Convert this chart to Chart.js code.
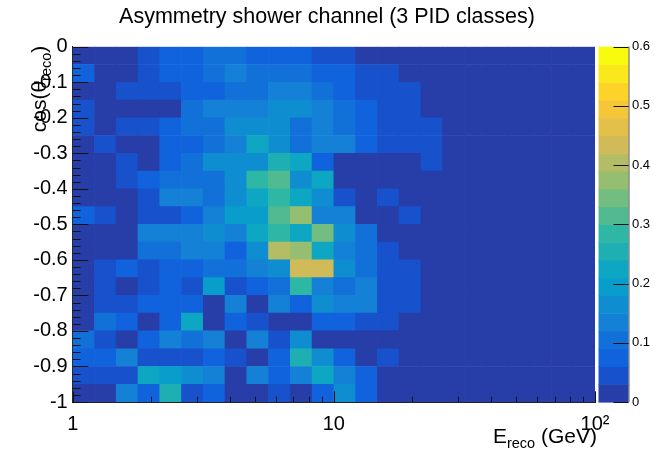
<!DOCTYPE html>
<html>
<head>
<meta charset="utf-8">
<script src="https://cdn.jsdelivr.net/npm/chart.js@4"></script>
<style>
  html, body { margin: 0; padding: 0; background: #fff; }
</style>
</head>
<body>
<canvas id="myChart" width="654" height="450"></canvas>
<script>
// bin edges: E_reco (GeV), log binning, and cos(theta_reco)
const xEdges = [1, 1.212, 1.468, 1.778, 2.154, 2.610, 3.162, 3.831, 4.642, 5.623, 6.813, 8.254,
  10, 12.12, 14.68, 17.78, 21.54, 26.10, 31.62, 38.31, 46.42, 56.23, 68.13, 82.54, 100];
const yEdges = [0, -0.05, -0.1, -0.15, -0.2, -0.25, -0.3, -0.35, -0.4, -0.45, -0.5,
  -0.55, -0.6, -0.65, -0.7, -0.75, -0.8, -0.85, -0.9, -0.95, -1];

// asymmetry per cell, one row per cos bin (top row = 0 .. -0.05)
const asym = [
  [0.01,0.01,0.01,0.04,0.07,0.07,0.10,0.10,0.07,0.07,0.07,0.04,0.04,0.01,0.01,0.01,0.01,0.01,0.01,0.01,0.01,0.01,0.01,0.01],
  [0.07,0.01,0.01,0.04,0.07,0.07,0.10,0.13,0.10,0.10,0.10,0.07,0.07,0.04,0.04,0.01,0.01,0.01,0.01,0.01,0.01,0.01,0.01,0.01],
  [0.01,0.01,0.04,0.04,0.04,0.07,0.07,0.10,0.10,0.13,0.13,0.10,0.07,0.04,0.04,0.04,0.01,0.01,0.01,0.01,0.01,0.01,0.01,0.01],
  [0.04,0.01,0.01,0.01,0.01,0.10,0.13,0.13,0.13,0.16,0.16,0.13,0.10,0.07,0.04,0.04,0.01,0.01,0.01,0.01,0.01,0.01,0.01,0.01],
  [0.04,0.01,0.04,0.04,0.07,0.10,0.10,0.16,0.16,0.16,0.10,0.13,0.10,0.07,0.04,0.04,0.04,0.01,0.01,0.01,0.01,0.01,0.01,0.01],
  [0.01,0.04,0.01,0.01,0.07,0.07,0.10,0.13,0.22,0.16,0.10,0.13,0.13,0.07,0.04,0.04,0.04,0.01,0.01,0.01,0.01,0.01,0.01,0.01],
  [0.01,0.01,0.04,0.01,0.07,0.10,0.16,0.16,0.16,0.25,0.22,0.07,0.01,0.01,0.01,0.01,0.04,0.01,0.01,0.01,0.01,0.01,0.01,0.01],
  [0.01,0.01,0.04,0.07,0.10,0.10,0.10,0.16,0.28,0.31,0.16,0.22,0.01,0.01,0.01,0.01,0.01,0.01,0.01,0.01,0.01,0.01,0.01,0.01],
  [0.01,0.01,0.01,0.04,0.13,0.13,0.10,0.16,0.22,0.28,0.22,0.16,0.04,0.01,0.04,0.01,0.01,0.01,0.01,0.01,0.01,0.01,0.01,0.01],
  [0.07,0.04,0.01,0.04,0.04,0.07,0.13,0.19,0.19,0.31,0.37,0.13,0.13,0.01,0.01,0.04,0.01,0.01,0.01,0.01,0.01,0.01,0.01,0.01],
  [0.01,0.01,0.01,0.13,0.13,0.13,0.16,0.13,0.22,0.28,0.22,0.34,0.16,0.10,0.01,0.01,0.01,0.01,0.01,0.01,0.01,0.01,0.01,0.01],
  [0.01,0.01,0.01,0.10,0.10,0.13,0.13,0.07,0.16,0.40,0.37,0.22,0.13,0.10,0.04,0.01,0.01,0.01,0.01,0.01,0.01,0.01,0.01,0.01],
  [0.01,0.04,0.07,0.04,0.07,0.07,0.10,0.10,0.13,0.16,0.43,0.43,0.16,0.10,0.04,0.04,0.01,0.01,0.01,0.01,0.01,0.01,0.01,0.01],
  [0.01,0.04,0.01,0.04,0.07,0.04,0.19,0.04,0.07,0.10,0.28,0.13,0.10,0.13,0.04,0.04,0.01,0.01,0.01,0.01,0.01,0.01,0.01,0.01],
  [0.01,0.04,0.04,0.07,0.07,0.07,0.01,0.13,0.01,0.13,0.07,0.16,0.13,0.13,0.04,0.04,0.01,0.01,0.01,0.01,0.01,0.01,0.01,0.01],
  [0.01,0.10,0.07,0.01,0.07,0.22,0.01,0.07,0.04,0.01,0.01,0.07,0.07,0.04,0.04,0.01,0.01,0.01,0.01,0.01,0.01,0.01,0.01,0.01],
  [0.10,0.04,0.01,0.07,0.13,0.10,0.13,0.01,0.13,0.04,0.16,0.01,0.01,0.01,0.01,0.01,0.01,0.01,0.01,0.01,0.01,0.01,0.01,0.01],
  [0.07,0.07,0.13,0.04,0.04,0.04,0.07,0.04,0.01,0.07,0.25,0.16,0.07,0.01,0.04,0.01,0.01,0.01,0.01,0.01,0.01,0.01,0.01,0.01],
  [0.04,0.04,0.04,0.22,0.19,0.16,0.13,0.01,0.13,0.07,0.13,0.22,0.13,0.07,0.01,0.01,0.01,0.01,0.01,0.01,0.01,0.01,0.01,0.01],
  [0.01,0.01,0.13,0.07,0.25,0.04,0.07,0.01,0.01,0.04,0.01,0.07,0.16,0.07,0.01,0.01,0.01,0.01,0.01,0.01,0.01,0.01,0.01,0.01],
];

// axis ticks
const xMajorTicks = [1, 10, 100];
const xMinorTicks = [2, 3, 4, 5, 6, 7, 8, 9, 20, 30, 40, 50, 60, 70, 80, 90];
const yTicks = [0, -0.1, -0.2, -0.3, -0.4, -0.5, -0.6, -0.7, -0.8, -0.9, -1];
const zTicks = [0, 0.1, 0.2, 0.3, 0.4, 0.5, 0.6];

// colour scale: 20 contour levels 0 .. 0.6, ROOT "bird" palette
const zMax = 0.6;
const nLevels = 20;
const birdStops = [0, 0.125, 0.25, 0.375, 0.5, 0.625, 0.75, 0.875, 1];
const birdR = [0.2082, 0.0592, 0.0780, 0.0232, 0.1802, 0.5301, 0.8186, 0.9956, 0.9764];
const birdG = [0.1664, 0.3599, 0.5041, 0.6419, 0.7178, 0.7492, 0.7328, 0.7862, 0.9832];
const birdB = [0.5293, 0.8684, 0.8385, 0.7914, 0.6425, 0.4662, 0.3499, 0.1968, 0.0539];

const birdColor = (t) => {
  let k = 0;
  while (k < birdStops.length - 2 && t > birdStops[k + 1]) k++;
  const f = (t - birdStops[k]) / (birdStops[k + 1] - birdStops[k]);
  const mix = (a) => Math.round(255 * (a[k] + (a[k + 1] - a[k]) * f));
  return "rgb(" + mix(birdR) + "," + mix(birdG) + "," + mix(birdB) + ")";
};
const levelColor = (i) => {
  const idx = Math.floor((i + 0.99) * 255 / nLevels);
  return birdColor(Math.min(1, idx / 254));
};
const levelOf = (v) => Math.max(0, Math.min(nLevels - 1, Math.floor(v / (zMax / nLevels) + 1e-9)));

const cells = [];
const cellColors = [];
asym.forEach((row, r) => {
  row.forEach((v, c) => {
    cells.push({ x: [xEdges[c], xEdges[c + 1]], y: (yEdges[r] + yEdges[r + 1]) / 2 });
    cellColors.push(levelColor(levelOf(v)));
  });
});

const FONT = "'Liberation Sans', Arial, Helvetica, sans-serif";

// ROOT style decorations: inward ticks, palette, axis titles
const rootFrame = {
  id: "rootFrame",
  afterDraw(chart) {
    const ctx = chart.ctx;
    const { left, right, top, bottom } = chart.chartArea;
    const xs = chart.scales.x, ys = chart.scales.y, zs = chart.scales.z;
    ctx.save();

    // palette
    const barL = right + 3.5, barR = right + 33.5;
    for (let i = 0; i < nLevels; i++) {
      const y0 = zs.getPixelForValue(i * zMax / nLevels);
      const y1 = zs.getPixelForValue((i + 1) * zMax / nLevels);
      ctx.fillStyle = levelColor(i);
      ctx.fillRect(barL, y1, barR - barL, y0 - y1 + 0.6);
    }
    ctx.strokeStyle = "#555";
    ctx.lineWidth = 1;
    ctx.beginPath();
    ctx.moveTo(barR + 0.5, zs.getPixelForValue(0));
    ctx.lineTo(barR + 0.5, zs.getPixelForValue(zMax));
    ctx.stroke();

    ctx.strokeStyle = "#111";
    ctx.beginPath();
    zTicks.forEach((v) => {
      const py = Math.round(zs.getPixelForValue(v)) + 0.5;
      ctx.moveTo(barR, py);
      ctx.lineTo(barR - 15, py);
    });
    // x ticks, pointing up into the frame
    xMajorTicks.forEach((v) => {
      const px = Math.round(xs.getPixelForValue(v)) + 0.5;
      ctx.moveTo(px, bottom);
      ctx.lineTo(px, bottom - 10.7);
    });
    xMinorTicks.forEach((v) => {
      const px = Math.round(xs.getPixelForValue(v)) + 0.5;
      ctx.moveTo(px, bottom);
      ctx.lineTo(px, bottom - 5.3);
    });
    // y ticks, pointing right into the frame
    yTicks.forEach((v) => {
      const py = Math.round(ys.getPixelForValue(v)) + 0.5;
      ctx.moveTo(left, py);
      ctx.lineTo(left + 15.6, py);
    });
    for (let k = 0; k <= 50; k++) {
      const py = Math.round(ys.getPixelForValue(-k * 0.02)) + 0.5;
      ctx.moveTo(left, py);
      ctx.lineTo(left + 7.8, py);
    }
    ctx.stroke();

    // axis titles with subscripts
    ctx.fillStyle = "#000";
    ctx.textBaseline = "alphabetic";
    ctx.textAlign = "left";
    const big = "21px " + FONT, small = "14.5px " + FONT;

    ctx.font = big;
    const wE = ctx.measureText("E").width;
    const wGeV = ctx.measureText(" (GeV)").width;
    ctx.font = small;
    const wReco = ctx.measureText("reco").width;
    let tx = right + 2 - (wE + wReco + wGeV);
    ctx.font = big;
    ctx.fillText("E", tx, 443);
    ctx.font = small;
    ctx.fillText("reco", tx + wE, 448);
    ctx.font = big;
    ctx.fillText(" (GeV)", tx + wE + wReco, 443);

    ctx.font = big;
    const wCos = ctx.measureText("cos(\u03b8").width;
    const wPar = ctx.measureText(")").width;
    ctx.translate(46, top - 1);
    ctx.rotate(-Math.PI / 2);
    let ty = -(wCos + wReco + wPar);
    ctx.fillText("cos(\u03b8", ty, 0);
    ctx.font = small;
    ctx.fillText("reco", ty + wCos, 5);
    ctx.font = big;
    ctx.fillText(")", ty + wCos + wReco, 0);

    ctx.restore();
  },
};

new Chart(document.getElementById("myChart"), {
  type: "bar",
  data: {
    datasets: [
      {
        data: cells,
        backgroundColor: cellColors,
        borderWidth: 0,
        borderSkipped: false,
        barPercentage: 1,
        categoryPercentage: 1,
        xAxisID: "x",
        yAxisID: "y",
      },
    ],
  },
  options: {
    indexAxis: "y",
    responsive: false,
    animation: false,
    events: [],
    layout: { padding: 0 },
    scales: {
      x: {
        type: "logarithmic",
        position: "bottom",
        min: 1,
        max: 100,
        afterFit: (s) => { s.height = 48; },
        grid: { display: false, drawTicks: false },
        border: { display: true, color: "#222", width: 1 },
        ticks: {
          autoSkip: false,
          maxRotation: 0,
          padding: 10,
          color: "#000",
          font: { family: FONT, size: 20 },
          callback: (v) => (v === 1 ? "1" : v === 10 ? "10" : v === 100 ? "10\u00b2" : ""),
        },
      },
      y: {
        type: "linear",
        position: "left",
        min: -1,
        max: 0,
        offset: false,
        afterFit: (s) => { s.width = 72.7; },
        grid: { display: false, drawTicks: false },
        border: { display: true, color: "#222", width: 1 },
        ticks: {
          stepSize: 0.1,
          padding: 5,
          color: "#000",
          font: { family: FONT, size: 20 },
          callback: (v) => (Math.abs(v) < 1e-9 ? "0" : Math.abs(v + 1) < 1e-9 ? "-1" : v.toFixed(1)),
        },
      },
      z: {
        type: "linear",
        position: "right",
        display: true,
        offset: false,
        min: 0,
        max: zMax,
        afterFit: (s) => { s.width = 59; },
        grid: { display: false, drawTicks: false, offset: false },
        border: { display: false },
        ticks: {
          stepSize: 0.1,
          padding: 37,
          color: "#000",
          font: { family: FONT, size: 13 },
          callback: (v) => (Math.abs(v) < 1e-9 ? "0" : v.toFixed(1)),
        },
      },
    },
    plugins: {
      legend: { display: false },
      tooltip: { enabled: false },
      title: {
        display: true,
        text: "Asymmetry shower channel (3 PID classes)",
        color: "#000",
        font: { family: FONT, size: 21.5, weight: "normal" },
        padding: { top: 4, bottom: 16.9 },
      },
    },
  },
  plugins: [rootFrame],
});
</script>
</body>
</html>
